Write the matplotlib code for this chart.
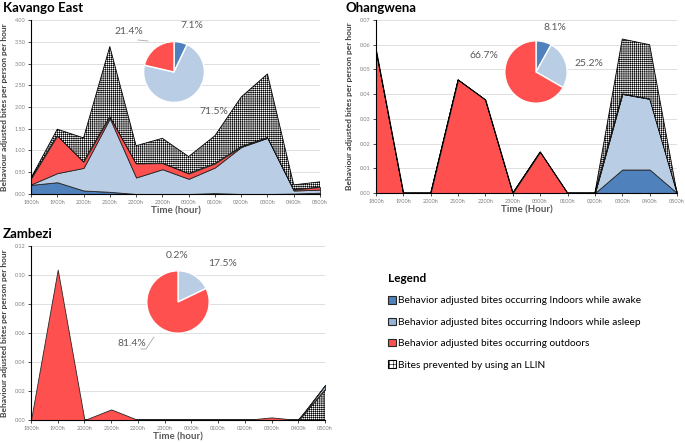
import matplotlib
import matplotlib.pyplot as plt
import numpy as np
from matplotlib.patches import Patch
from matplotlib.lines import Line2D

matplotlib.use("Agg")

plt.rcParams['font.family'] = ['Lato', 'DejaVu Sans']
plt.rcParams['hatch.linewidth'] = 0.4

W, H = 685, 443

hours = ['1800h', '1900h', '2000h', '2100h', '2200h', '2300h',
         '0000h', '0100h', '0200h', '0300h', '0400h', '0500h']

# layer thicknesses (stacked)
kav_awake = [0.21, 0.27, 0.08, 0.05, 0.0, 0.0, 0.0, 0.02, 0.0, 0.0, 0.01, 0.03]
kav_asleep = [0.01, 0.21, 0.52, 1.69, 0.38, 0.57, 0.35, 0.59, 1.08, 1.29, 0.07, 0.07]
kav_outdoors = [0.13, 0.86, 0.14, 0.04, 0.32, 0.14, 0.12, 0.09, 0.01, 0.01, 0.02, 0.06]
kav_llin = [0.02, 0.15, 0.55, 1.61, 0.41, 0.57, 0.39, 0.64, 1.14, 1.46, 0.11, 0.12]
kav_pie = [7.1, 71.5, 21.4]

oha_awake = [0, 0, 0, 0, 0, 0, 0, 0, 0, 0.0095, 0.0095, 0]
oha_asleep = [0, 0, 0, 0, 0, 0, 0, 0, 0, 0.0306, 0.0286, 0]
oha_outdoors = [0.058, 0, 0, 0.0458, 0.0377, 0, 0.0166, 0, 0, 0, 0, 0]
oha_llin = [0, 0, 0, 0, 0, 0, 0, 0, 0, 0.0222, 0.0219, 0]
oha_pie = [8.1, 25.2, 66.7]

zam_awake = [0, 0, 0, 0, 0, 0, 0, 0, 0, 0, 0, 0.0005]
zam_asleep = [0, 0, 0, 0, 0, 0, 0, 0, 0, 0, 0, 0.0025]
zam_outdoors = [0, 0.1037, 0, 0.0073, 0, 0, 0, 0, 0, 0.0018, 0, 0]
zam_llin = [0, 0, 0, 0, 0, 0, 0, 0, 0, 0, 0, 0.021]
zam_pie = [0.2, 17.5, 81.4]

C_AWAKE = '#4F81BD'
C_ASLEEP = '#B9CDE5'
C_OUT = '#FF5050'
EDGE = '#262626'
HATCH = '++++++++'


def px_rect(left, top, right, bottom):
    return [left / W, 1 - bottom / H, (right - left) / W, (bottom - top) / H]


def area_panel(fig, rect, layers, ymax, ystep, title, xlabel, llin_first=False):
    ax = fig.add_axes(px_rect(*rect))
    x = np.arange(len(hours))
    awake, asleep, outdoors, llin = layers
    if llin_first:
        order = [(llin, 'llin'), (awake, C_AWAKE), (asleep, C_ASLEEP), (outdoors, C_OUT)]
    else:
        order = [(awake, C_AWAKE), (asleep, C_ASLEEP), (outdoors, C_OUT), (llin, 'llin')]
    base = np.zeros(len(hours))
    for vals, col in order:
        top = base + np.array(vals)
        if col == 'llin':
            ax.fill_between(x, base, top, facecolor='white', edgecolor='black',
                            hatch=HATCH, linewidth=0.6, zorder=2)
        else:
            ax.fill_between(x, base, top, facecolor=col, edgecolor=EDGE,
                            linewidth=0.6, zorder=2)
        base = top

    ax.set_xlim(0, len(hours) - 1)
    ax.set_ylim(0, ymax)
    ax.set_xticks(x)
    ax.set_xticklabels(hours)
    ax.set_yticks(np.arange(0, ymax + ystep / 2, ystep))
    ax.yaxis.set_major_formatter(matplotlib.ticker.FormatStrFormatter('%.2f'))
    ax.tick_params(labelsize=4, labelcolor='#7F7F7F', length=2, width=0.5, pad=2)
    ax.grid(axis='y', color='#D9D9D9', linewidth=0.6, zorder=0)
    ax.set_axisbelow(True)
    for s in ['top', 'right']:
        ax.spines[s].set_visible(False)
    for s in ['left', 'bottom']:
        ax.spines[s].set_linewidth(0.8)
        ax.spines[s].set_color('black')
        ax.spines[s].set_zorder(3)

    left, top_px, right, bottom = rect
    ax.set_ylabel('Behaviour adjusted bites per person per hour', fontsize=6,
                  fontweight='bold', color='#404040')
    ax.yaxis.set_label_coords(-23 / (right - left), 0.5)
    ax.set_xlabel(xlabel, fontsize=7, fontweight='bold', color='#595959', va='center')
    ax.xaxis.set_label_coords(0.5, -17 / (bottom - top_px))
    fig.text(3 / W if left < 100 else 346 / W, 1 - (top_px - 12) / H, title,
             fontsize=9.5, fontweight='bold', color='black', va='center', ha='left')
    return ax


def pie_panel(fig, cx, cy, r, vals, labels_pos):
    ax = fig.add_axes(px_rect(cx - r, cy - r, cx + r, cy + r))
    ax.pie(vals, colors=[C_AWAKE, C_ASLEEP, C_OUT], startangle=90, counterclock=False,
           wedgeprops=dict(edgecolor='white', linewidth=1.0))
    ax.set_aspect('equal')
    for v, (lx, ly) in zip(vals, labels_pos):
        fig.text(lx / W, 1 - ly / H, f'{v:.1f}%', fontsize=7.5, color='#595959',
                 ha='center', va='center')
    return ax


fig = plt.figure(figsize=(W / 100, H / 100), dpi=100)

area_panel(fig, (31, 20, 320, 194), (kav_awake, kav_asleep, kav_outdoors, kav_llin),
           4.0, 0.5, 'Kavango East', 'Time (hour)')
area_panel(fig, (376, 20, 677, 193), (oha_awake, oha_asleep, oha_outdoors, oha_llin),
           0.07, 0.01, 'Ohangwena', 'Time (Hour)')
area_panel(fig, (31, 246, 325, 420), (zam_awake, zam_asleep, zam_outdoors, zam_llin),
           0.12, 0.02, 'Zambezi', 'Time (hour)', llin_first=True)

pie_panel(fig, 174, 72, 38, kav_pie, [(192, 26), (214, 112), (129, 31)])
pie_panel(fig, 536, 72, 39, oha_pie, [(555, 27), (589, 63), (484, 56)])
pie_panel(fig, 178, 302, 39, zam_pie, [(177, 256), (223, 263), (132, 343)])

# leader lines
fig.add_artist(Line2D([138 / W, 148 / W], [1 - 40 / H, 1 - 41 / H], color='#A6A6A6', lw=0.6))
fig.add_artist(Line2D([154 / W, 146 / W, 141 / W], [1 - 337 / H, 1 - 349 / H, 1 - 349 / H],
                      color='#A6A6A6', lw=0.6))

handles = [
    Patch(facecolor=C_AWAKE, edgecolor=EDGE, linewidth=0.8),
    Patch(facecolor='#95B3D7', edgecolor=EDGE, linewidth=0.8),
    Patch(facecolor=C_OUT, edgecolor=EDGE, linewidth=0.8),
    Patch(facecolor='white', edgecolor='black', hatch='++++', linewidth=0.8),
]
labels = [
    'Behavior adjusted bites occurring Indoors while awake',
    'Behavior adjusted bites occurring Indoors while asleep',
    'Behavior adjusted bites occurring outdoors',
    'Bites prevented by using an LLIN',
]
leg = fig.legend(handles, labels, loc='upper left', bbox_to_anchor=(388 / W, 1 - 273 / H),
                 frameon=False, fontsize=7.3, title='Legend', alignment='left',
                 title_fontproperties={'weight': 'bold', 'size': 8.5},
                 handlelength=0.75, handleheight=0.75, handletextpad=0.25,
                 labelspacing=1.2, borderpad=0, borderaxespad=0)

fig.savefig('out.png', dpi=100)
